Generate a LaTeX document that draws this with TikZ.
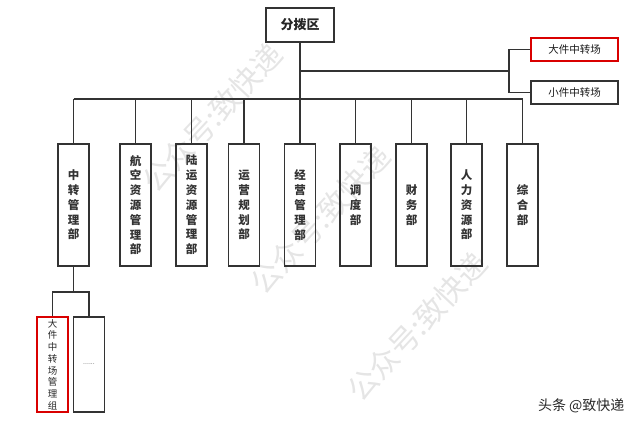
\documentclass[tikz,border=0pt]{standalone}
\usepackage{fontspec}
\newfontfamily\cjk{Noto Sans CJK SC}
\tikzset{
  orgline/.style={draw=black!80, line width=1.2pt},
  topbox/.style={draw=black!80, line width=1.2pt, minimum width=68pt, minimum height=34pt, inner sep=0pt,
    font=\cjk\fontsize{13}{15}\selectfont\bfseries, text=black!85},
  sitebox/.style={draw=black!80, line width=1.2pt, minimum width=87pt, minimum height=23pt, inner sep=0pt,
    font=\cjk\fontsize{10.5}{12}\selectfont, text=black!90},
  deptbox/.style={draw=black!80, line width=1.2pt, minimum width=31pt, minimum height=122pt, inner sep=0pt,
    align=center, font=\cjk\fontsize{11.5}{14.8}\selectfont\bfseries, text=black!80},
  groupbox/.style={draw=black!80, line width=1.2pt, minimum width=31pt, minimum height=95pt, inner sep=0pt,
    align=center, font=\cjk\fontsize{9.5}{11.7}\selectfont, text=black!85},
  marked/.style={draw=red!85!black},
  wmark/.style={text=black!10, font=\cjk\fontsize{30}{30}\selectfont, rotate=47}
}
\begin{document}
\begin{tikzpicture}[x=1pt,y=-1pt]
\useasboundingbox (0,0) rectangle (640,427);

% watermarks
\node[wmark] (wm1) at (212,118) {公众号:致快递};
\node[wmark] (wm2) at (320,220) {公众号:致快递};
\node[wmark] (wm3) at (417,327) {公众号:致快递};

% top level
\node[topbox] (hub) at (300,25) {分拨区};
\node[sitebox, marked] (big) at (574.5,49.5) {大件中转场};
\node[sitebox] (small) at (574.5,92.5) {小件中转场};

% departments
\node[deptbox] (d1) at (73.5,205) {中\\转\\管\\理\\部};
\node[deptbox] (d2) at (135.5,205) {航\\空\\资\\源\\管\\理\\部};
\node[deptbox] (d3) at (191.5,205) {陆\\运\\资\\源\\管\\理\\部};
\node[deptbox] (d4) at (244,205) {运\\营\\规\\划\\部};
\node[deptbox] (d5) at (300,205) {经\\营\\管\\理\\部};
\node[deptbox] (d6) at (355.5,205) {调\\度\\部};
\node[deptbox] (d7) at (411.5,205) {财\\务\\部};
\node[deptbox] (d8) at (466.5,205) {人\\力\\资\\源\\部};
\node[deptbox] (d9) at (522.5,205) {综\\合\\部};

% groups under d1
\node[groupbox, marked] (g1) at (52.5,364.5) {大\\件\\中\\转\\场\\管\\理\\组};
\node[groupbox, font=\cjk\fontsize{7}{8}\selectfont, text=black!65] (g2) at (89,364.5) {......};

\coordinate (bus) at (300,99);
\coordinate (fork) at (509,71);
\coordinate (sub) at (73.5,292);

% connectors
\draw[orgline] (hub.south) -- (bus);
\draw[orgline] (d1.north |- bus) -- (d9.north |- bus);
\foreach \d in {d1,d2,d3,d4,d5,d6,d7,d8,d9}
  \draw[orgline] (\d.north) -- (\d.north |- bus);
\draw[orgline] (hub.south |- fork) -- (fork);
\draw[orgline] (big.west) -| (fork) |- (small.west);
\draw[orgline] (d1.south) -- (sub);
\draw[orgline] (g1.north) |- (sub) -| (g2.north);

\node[font=\cjk\fontsize{14}{15}\selectfont, text=black!85, anchor=east] (tag) at (628,406) {头条 @致快递};
\end{tikzpicture}
\end{document}
